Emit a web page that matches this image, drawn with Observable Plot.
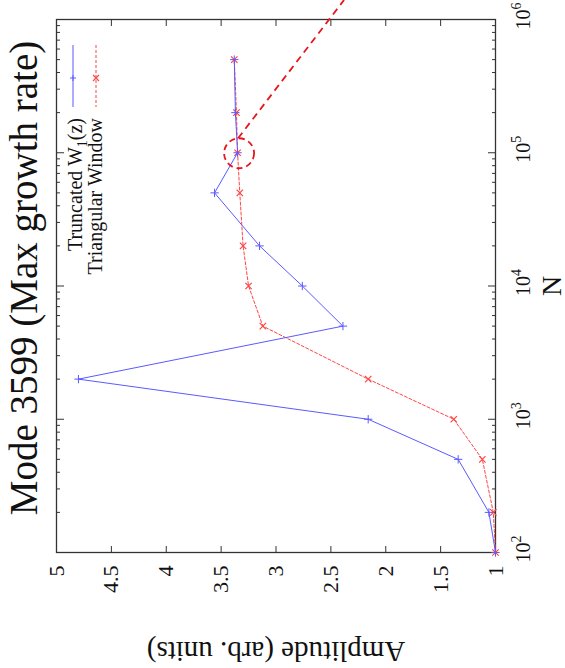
<!DOCTYPE html>
<html>
<head>
<meta charset="utf-8">
<script src="https://cdn.jsdelivr.net/npm/d3@7"></script>
<script src="https://cdn.jsdelivr.net/npm/@observablehq/plot@0.6"></script>
<style>
  html, body { margin: 0; padding: 0; background: #fff; }
  #chart svg { display: block; }
  #chart svg, #chart svg text, #chart svg tspan { font-family: "Liberation Serif", "Times New Roman", Times, "DejaVu Serif", "Noto Serif", serif !important; }
</style>
</head>
<body>
<div id="chart"></div>
<script>
// ---- data ----
const N = [100, 200, 500, 1000, 2000, 5000, 10000, 20000, 50000, 100000, 200000, 500000];
const truncated = [1.00, 1.06, 1.34, 2.16, 4.80, 2.39, 2.76, 3.15, 3.56, 3.35, 3.37, 3.38];
const triangular = [1.00, 1.02, 1.12, 1.38, 2.16, 3.12, 3.25, 3.30, 3.33, 3.35, 3.36, 3.38];
const seriesNames = ["Truncated W", "Triangular Window"];
const ampTicks = [1, 1.5, 2, 2.5, 3, 3.5, 4, 4.5, 5];
const ampLabels = ["1", "1.5", "2", "2.5", "3", "3.5", "4", "4.5", "5"];
const nTicks = [1e2, 1e3, 1e4, 1e5, 1e6];
const nExponents = ["2", "3", "4", "5", "6"];
const title = "Mode 3599 (Max growth rate)";
const xLabel = "N";
const yLabel = "Amplitude (arb. units)";

const nMinor = [];
for (let k = 2; k < 6; k++) for (let m = 2; m <= 9; m++) nMinor.push(m * 10 ** k);

const rowsA = N.map((n, i) => ({n, a: truncated[i]}));
const rowsB = N.map((n, i) => ({n, a: triangular[i]}));

const SERIF = "'Liberation Serif', 'Times New Roman', Times, 'DejaVu Serif', 'Noto Serif', serif";
const BLUE = "#5a5aff";
const RED = "#ff4545";
const FRAME = "#333";

function decorations(index, scales, values, dims) {
  const g = d3.create("svg:g").attr("font-family", SERIF);
  const L = dims.marginLeft, T = dims.marginTop;
  // legend samples
  const s = [{x: L + 17, c: BLUE, dash: null, sym: "plus"}, {x: L + 40, c: RED, dash: "3,2", sym: "times"}];
  s.forEach(d => {
    g.append("line").attr("x1", d.x).attr("x2", d.x).attr("y1", T + 26).attr("y2", T + 88)
      .attr("stroke", d.c).attr("stroke-width", 1).attr("stroke-dasharray", d.dash);
    const cy = T + 59;
    if (d.sym === "plus") {
      g.append("path").attr("d", `M${d.x - 3},${cy}H${d.x + 3}M${d.x},${cy - 3}V${cy + 3}`).attr("stroke", d.c).attr("stroke-width", 1);
    } else {
      g.append("path").attr("d", `M${d.x - 3},${cy - 3}L${d.x + 3},${cy + 3}M${d.x - 3},${cy + 3}L${d.x + 3},${cy - 3}`).attr("stroke", d.c).attr("stroke-width", 1.2);
    }
  });
  const t1 = g.append("text").attr("transform", `translate(${L + 26},${T + 99}) rotate(-90)`)
    .attr("text-anchor", "end").attr("font-size", 20).attr("fill", "#111");
  t1.append("tspan").text(seriesNames[0]);
  t1.append("tspan").attr("font-size", 14).attr("dy", 5).text("1");
  t1.append("tspan").attr("dy", -5).text("(z)");
  g.append("text").attr("transform", `translate(${L + 46},${T + 99}) rotate(-90)`)
    .attr("text-anchor", "end").attr("font-size", 20).attr("fill", "#111").text(seriesNames[1]);
  // annotation: dashed circle around the N = 1e5 point and a pointer line
  const i5 = N.indexOf(100000);
  const cx = scales.x(truncated[i5]) + 2, cy = scales.y(N[i5]) + 1;
  g.append("circle").attr("cx", cx).attr("cy", cy).attr("r", 15).attr("fill", "none")
    .attr("stroke", "#e8141c").attr("stroke-width", 1.8).attr("stroke-dasharray", "6,4");
  const x1 = cx - 1, y1 = cy - 15;
  g.append("line").attr("x1", x1).attr("y1", y1).attr("x2", x1 + y1 * 105 / 137).attr("y2", 0)
    .attr("stroke", "#e8141c").attr("stroke-width", 1.8).attr("stroke-dasharray", "7,5");
  return g.node();
}

const chart = Plot.plot({
  width: 565,
  height: 668,
  marginLeft: 56,
  marginRight: 70,
  marginTop: 19,
  marginBottom: 116,
  x: {type: "linear", domain: [5, 1], axis: null},
  y: {type: "log", domain: [100, 1e6], axis: null},
  style: {fontFamily: SERIF, background: "#fff", color: "#111"},
  marks: [
    // inward ticks (gnuplot style, mirrored)
    Plot.axisX(ampTicks, {anchor: "bottom", tickSize: -6, tickFormat: () => "", label: null, stroke: FRAME}),
    Plot.axisX(ampTicks, {anchor: "top", tickSize: -6, tickFormat: () => "", label: null, stroke: FRAME}),
    Plot.axisY(nTicks, {anchor: "left", tickSize: -8, tickFormat: () => "", label: null, stroke: FRAME}),
    Plot.axisY(nTicks, {anchor: "right", tickSize: -8, tickFormat: () => "", label: null, stroke: FRAME}),
    Plot.axisY(nMinor, {anchor: "left", tickSize: -4, tickFormat: () => "", label: null, stroke: FRAME}),
    Plot.axisY(nMinor, {anchor: "right", tickSize: -4, tickFormat: () => "", label: null, stroke: FRAME}),
    Plot.frame({stroke: FRAME, strokeWidth: 1.3}),
    // data
    Plot.line(rowsB, {x: "a", y: "n", stroke: RED, strokeWidth: 1, strokeDasharray: "3,2"}),
    Plot.dot(rowsB, {x: "a", y: "n", symbol: "times", r: 3, stroke: RED, strokeWidth: 1.2}),
    Plot.line(rowsA, {x: "a", y: "n", stroke: BLUE, strokeWidth: 1}),
    Plot.dot(rowsA, {x: "a", y: "n", symbol: "plus", r: 2.8, stroke: BLUE, strokeWidth: 1}),
    // amplitude tick labels (rotated)
    Plot.text(ampTicks, {x: d => d, text: (d, i) => ampLabels[i], frameAnchor: "bottom", dy: 13, rotate: -90,
      textAnchor: "end", lineAnchor: "middle", fontSize: 22, fill: "#111", fontFamily: SERIF}),
    // N tick labels 10^k
    Plot.text(nTicks, {y: d => d, text: () => "10", frameAnchor: "right", dx: 34, rotate: -90,
      textAnchor: "middle", lineAnchor: "bottom", fontSize: 20, fill: "#111", fontFamily: SERIF}),
    Plot.text(nTicks, {y: d => d, text: (d, i) => nExponents[i], frameAnchor: "right", dx: 25, dy: -10, rotate: -90,
      textAnchor: "start", lineAnchor: "bottom", fontSize: 14, fill: "#111", fontFamily: SERIF}),
    // axis labels and title
    Plot.text([xLabel], {text: d => d, frameAnchor: "right", dx: 65, rotate: -90, textAnchor: "middle",
      lineAnchor: "bottom", fontSize: 28, fill: "#111", fontFamily: SERIF}),
    Plot.text([yLabel], {text: d => d, frameAnchor: "bottom", dy: 89, rotate: 180, textAnchor: "middle",
      lineAnchor: "bottom", fontSize: 29, fill: "#111", fontFamily: SERIF}),
    Plot.text([title], {text: d => d, frameAnchor: "left", dx: -20, dy: -8, rotate: -90, textAnchor: "middle",
      lineAnchor: "bottom", fontSize: 39, fill: "#111", fontFamily: SERIF}),
    decorations
  ]
});
document.getElementById("chart").append(chart);
</script>
</body>
</html>
